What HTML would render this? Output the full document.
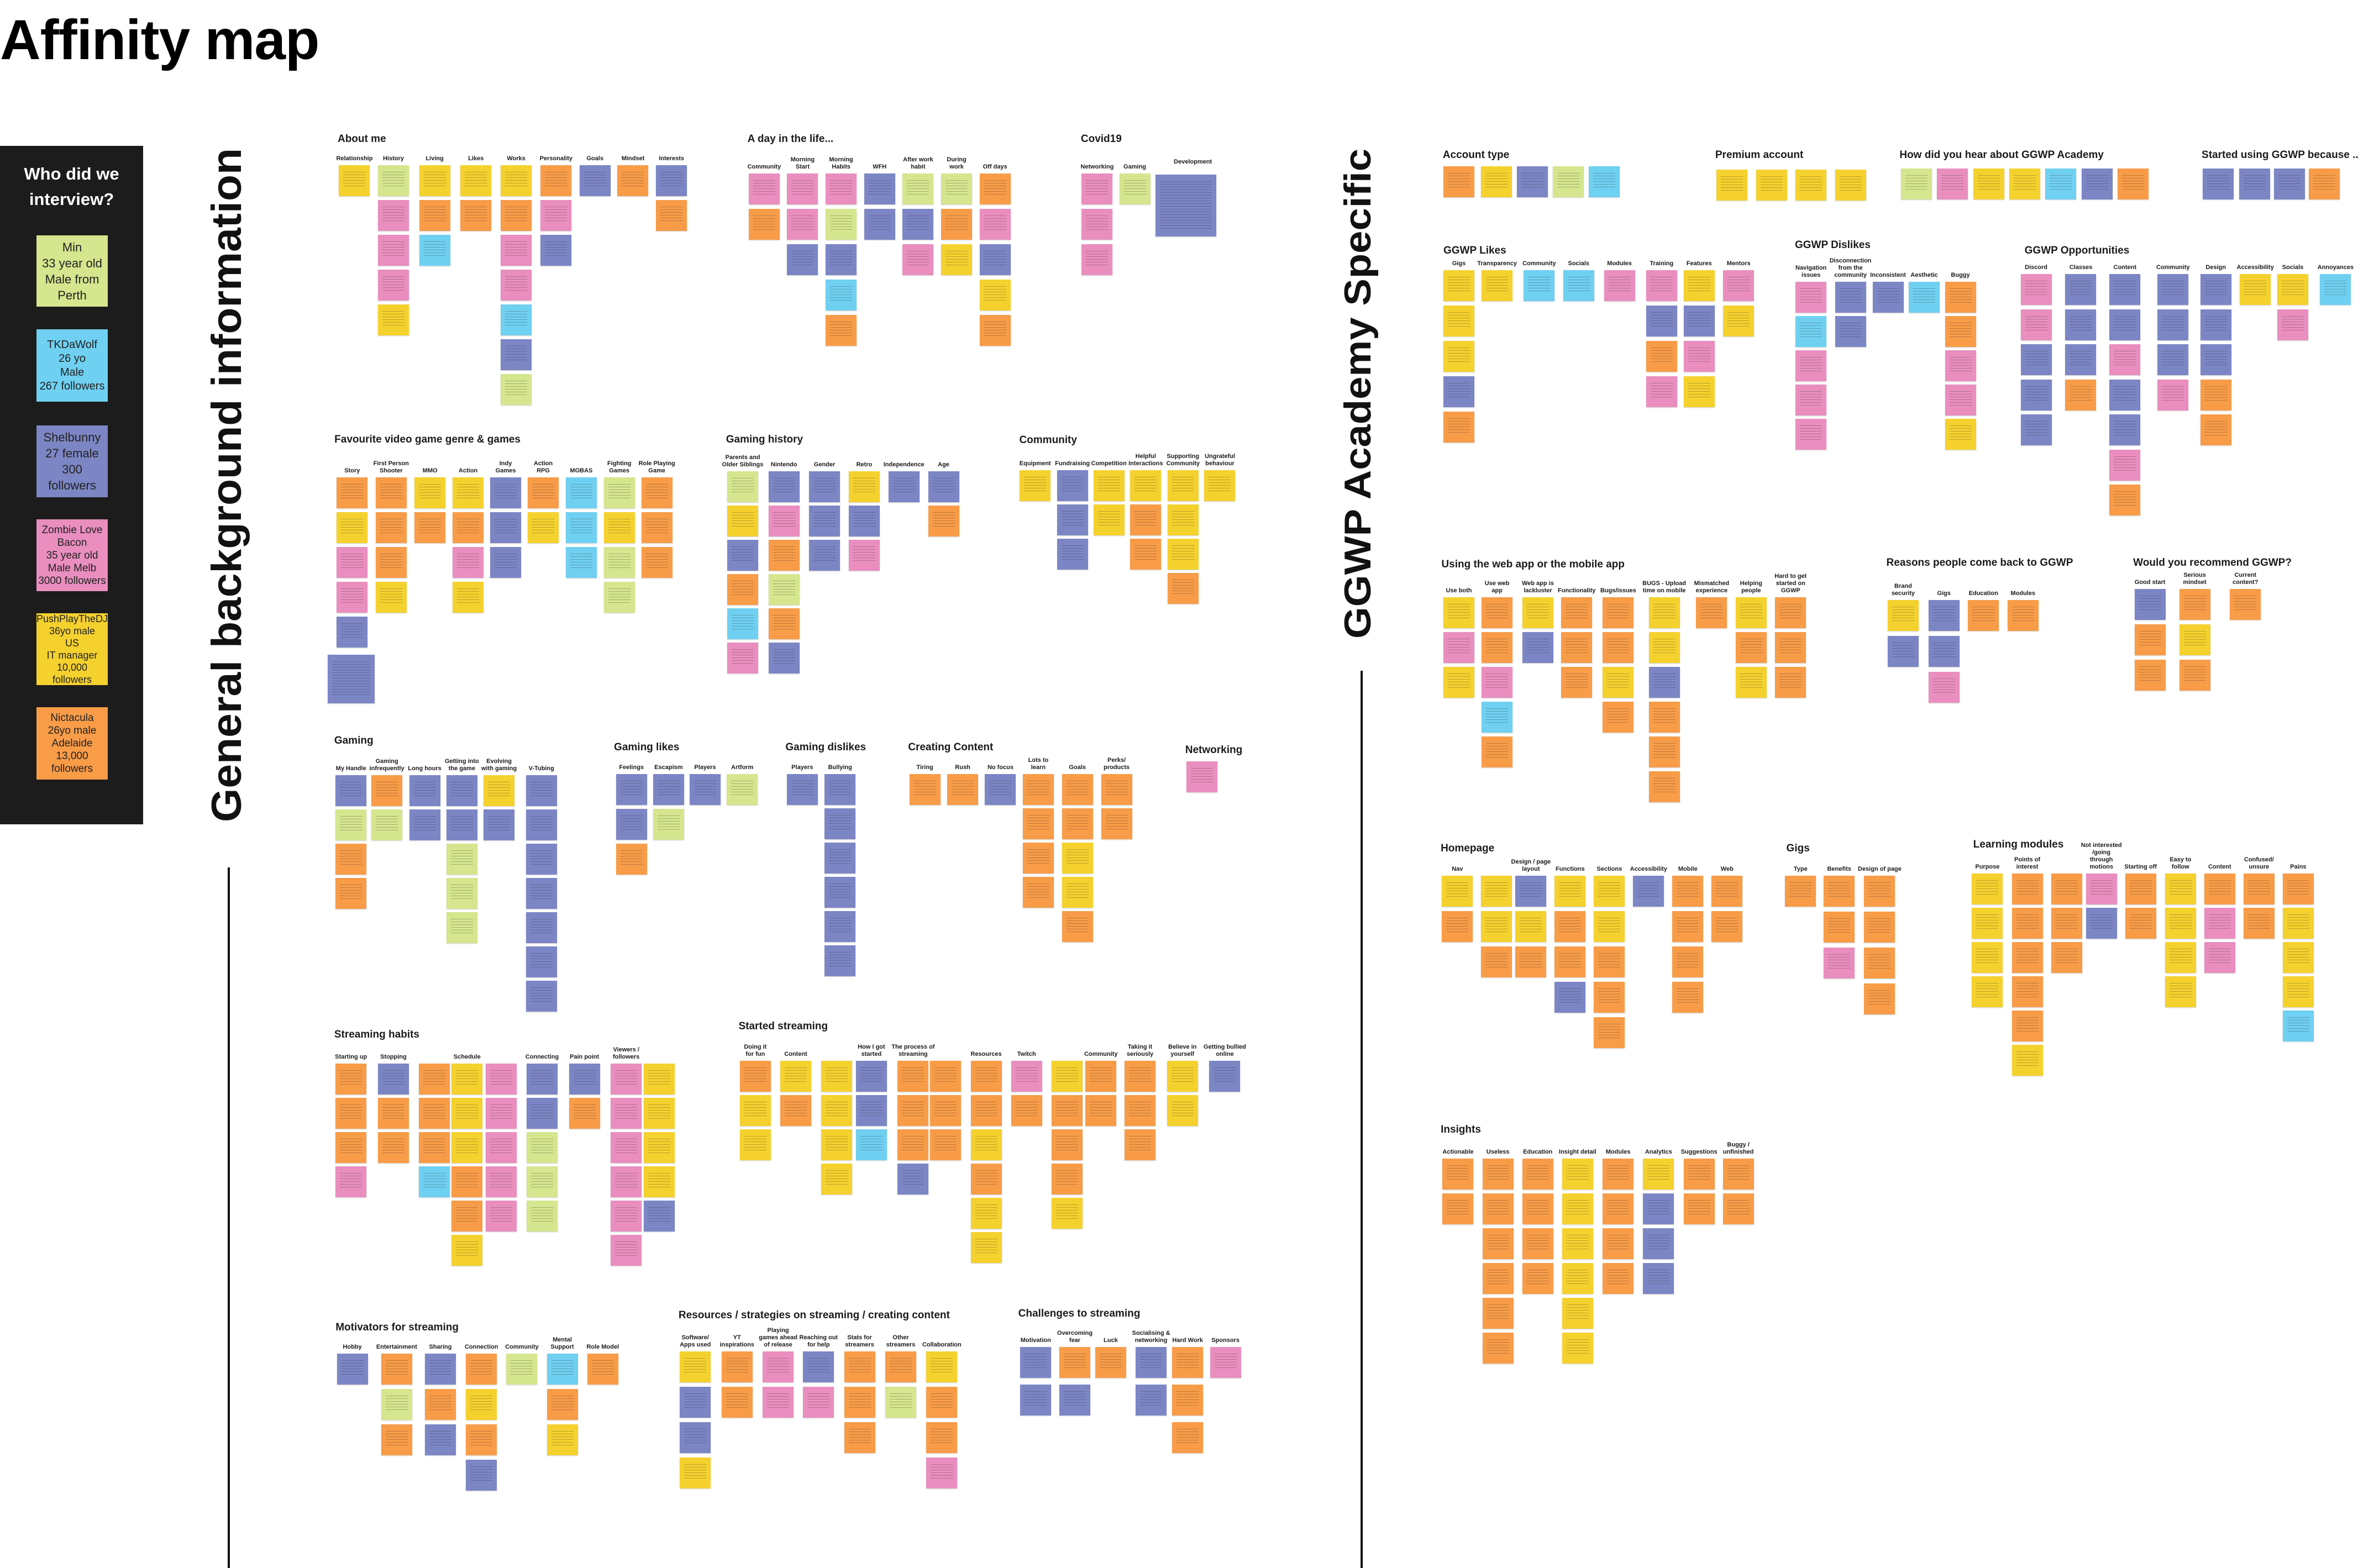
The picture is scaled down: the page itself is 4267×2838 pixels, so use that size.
<!DOCTYPE html>
<html><head><meta charset="utf-8">
<style>
html,body{margin:0;padding:0;background:#fff}
#pg{position:relative;width:4267px;height:2838px;overflow:hidden;background:#fff;font-family:"Liberation Sans",sans-serif;color:#1b1b1b}
.n{position:absolute;box-sizing:border-box;box-shadow:0 1px 2px rgba(0,0,0,.2)}
.n::after{content:"";position:absolute;left:8px;right:8px;top:12px;bottom:14px;background:repeating-linear-gradient(180deg,rgba(40,30,30,.28) 0 1px,transparent 1px 5px)}
.h{position:absolute;font-weight:bold;font-size:19px;white-space:nowrap}
.l{position:absolute;font-weight:bold;font-size:11px;width:80px;text-align:center;line-height:13px}
.card{position:absolute;left:66px;width:129px;display:flex;align-items:center;justify-content:center;text-align:center;font-size:22px;line-height:27px;color:#222}
</style></head><body>
<div id="pg">
<div style="position:absolute;left:0;top:14px;font-size:102px;font-weight:bold;letter-spacing:-1px;color:#000">Affinity map</div>
<div style="position:absolute;left:0;top:264px;width:259px;height:1228px;background:#1c1c1c"></div>
<div style="position:absolute;left:0;top:292px;width:259px;text-align:center;color:#fff;font-weight:bold;font-size:31px;line-height:46px">Who did we<br>interview?</div>
<div class="card" style="top:426px;height:129px;background:#d5e68e;line-height:29px">Min<br>33 year old<br>Male from<br>Perth</div>
<div class="card" style="top:596px;height:131px;background:#6fd0f1;line-height:25px;font-size:20px">TKDaWolf<br>26 yo<br>Male<br>267 followers</div>
<div class="card" style="top:770px;height:130px;background:#7c86c5;line-height:29px">Shelbunny<br>27 female<br>300<br>followers</div>
<div class="card" style="top:940px;height:130px;background:#e98ebf;line-height:23px;font-size:19px">Zombie Love<br>Bacon<br>35 year old<br>Male Melb<br>3000 followers</div>
<div class="card" style="top:1110px;height:130px;background:#f5d12e;line-height:22px;font-size:18px">PushPlayTheDJ<br>36yo male<br>US<br>IT manager<br>10,000 followers</div>
<div class="card" style="top:1280px;height:131px;background:#f89c48;line-height:23px;font-size:19px">Nictacula<br>26yo male<br>Adelaide<br>13,000<br>followers</div>
<svg style="position:absolute;left:0;top:0" width="4267" height="2838">
<text transform="translate(436,1488) rotate(-90)" font-family="Liberation Sans" font-weight="bold" font-size="76" textLength="1220" lengthAdjust="spacingAndGlyphs" fill="#111">General background information</text>
<text transform="translate(2480,1156) rotate(-90)" font-family="Liberation Sans" font-weight="bold" font-size="68" textLength="887" lengthAdjust="spacingAndGlyphs" fill="#111">GGWP Academy Specific</text>
<rect x="412" y="1570" width="4" height="1268" fill="#111"/>
<rect x="2462" y="1214" width="4" height="1624" fill="#111"/>
</svg>
</div>
<script>
const pg=document.getElementById('pg');
const C={Y:'#f5d12e',O:'#f89c48',P:'#e98ebf',B:'#7c86c5',C:'#6fd0f1',L:'#d5e68e'};
const R={1:[0,0,.829,.957],2:[2400,200,1.191,.765],3:[1250,200,.733,.829],4:[560,1300,1.18,.981],5:[2500,1400,1.127,.917]};
function M(r,x,y){const a=R[r];return [a[0]+x*a[2],a[1]+y*a[3]];}
function note(x,y,c,w,h){const d=document.createElement('div');d.className='n';d.style.cssText=`left:${x}px;top:${y}px;width:${w||56}px;height:${h||56}px;background:${C[c]}`;pg.appendChild(d);}
function H(r,x,y,t){const p=M(r,x,y);const d=document.createElement('div');d.className='h';d.textContent=t;d.style.left=p[0]+'px';d.style.top=(p[1]-12)+'px';pg.appendChild(d);}
function K(r,cols,step){step=step||63;cols.forEach(c=>{const p=M(r,c[0],c[1]);if(c[3]){const d=document.createElement('div');d.className='l';d.innerHTML=c[3];d.style.left=(p[0]+28-40)+'px';d.style.bottom=(2838-(p[1]-5))+'px';pg.appendChild(d);}
[...c[2]].forEach((k,i)=>note(p[0],p[1]+i*step,k));});}
// R1
H(1,737,264,'About me');
K(1,[[740,312,'Y','Relationship'],[825,312,'LPPPY','History'],[915,312,'YOC','Living'],[1005,312,'YO','Likes'],[1093,312,'YOPPCBL','Works'],[1180,312,'OPB','Personality'],[1265,312,'B','Goals'],[1348,312,'O','Mindset'],[1432,312,'BO','Interests']],63);
H(1,730,833,'Favourite video game genre & games');
K(1,[[735,903,'OYPPB','Story'],[820,903,'OOOY','First Person<br>Shooter'],[905,903,'YO','MMO'],[988,903,'YOPY','Action'],[1070,903,'BBB','Indy<br>Games'],[1152,903,'OY','Action<br>RPG'],[1235,903,'CCC','MOBAS'],[1318,903,'LYLL','Fighting<br>Games'],[1400,903,'OOO','Role Playing<br>Game']],63);
note(593,1185,'B',85,88);
// R3
H(3,140,64,'A day in the life...');
K(3,[[143,138,'PO','Community'],[238,138,'PPB','Morning<br>Start'],[333,138,'PLBCO','Morning<br>Habits'],[428,138,'BB','WFH'],[523,138,'LBP','After work<br>habit'],[618,138,'LOY','During<br>work'],[713,138,'OPBYO','Off days']],64);
H(3,963,64,'Covid19');
K(3,[[965,138,'PPP','Networking'],[1058,138,'L','Gaming']],64);
{const p=M(3,1148,140);note(p[0],p[1],'B',110,112);const q=M(3,1185,112);const d=document.createElement('div');d.className='l';d.textContent='Development';d.style.left=q[0]+'px';d.style.top=(q[1]-6)+'px';pg.appendChild(d);}
H(3,87,720,'Gaming history');
K(3,[[90,788,'LYBOCP','Parents and<br>Older Siblings'],[192,788,'BPOLOB','Nintendo'],[292,788,'BBB','Gender'],[390,788,'YBP','Retro'],[488,788,'B','Independence'],[586,788,'BO','Age']],62);
H(3,811,721,'Community');
K(3,[[812,785,'Y','Equipment'],[904,785,'BBB','Fundraising'],[994,785,'YY','Competition'],[1085,785,'YOO','Helpful<br>Interactions'],[1177,785,'YYYO','Supporting<br>Community'],[1268,785,'Y','Ungrateful<br>behaviour']],62);
// R4
H(4,38,43,'Gaming');
K(4,[[40,105,'BLOO','My Handle'],[95,105,'OL','Gaming<br>infrequently'],[153,105,'BB','Long hours'],[210,105,'BBLLL','Getting into<br>the game'],[267,105,'YB','Evolving<br>with gaming'],[332,105,'BBBBBBB','V-Tubing']],62);
H(4,467,55,'Gaming likes');
K(4,[[470,103,'BBO','Feelings'],[527,103,'BL','Escapism'],[583,103,'B','Players'],[640,103,'L','Artform']],63);
H(4,730,55,'Gaming dislikes');
K(4,[[732,103,'B','Players'],[790,103,'BBBBBB','Bullying']],62);
H(4,918,55,'Creating Content');
K(4,[[920,103,'O','Tiring'],[978,103,'O','Rush'],[1036,103,'B','No focus'],[1094,103,'OOOO','Lots to<br>learn'],[1154,103,'OOYYO','Goals'],[1214,103,'OO','Perks/<br>products']],62);
H(4,1343,60,'Networking');
K(4,[[1345,80,'P','']]);
H(4,38,585,'Streaming habits');
K(4,[[40,637,'OOOP','Starting up'],[105,637,'BOO','Stopping'],[168,637,'OOOC',''],[218,637,'YYYOOY','Schedule'],[270,637,'PPPPP',''],[333,637,'BBLLL','Connecting'],[398,637,'BO','Pain point'],[462,637,'PPPPPP','Viewers / followers'],[513,637,'YYYYB','']],62);
H(4,658,570,'Started streaming');
K(4,[[660,632,'OYY','Doing it<br>for fun'],[722,632,'YO','Content'],[785,632,'YYYY',''],[838,632,'BBC','How I got started'],[902,632,'OOOB','The process of streaming'],[952,632,'OOO',''],[1014,632,'OOYOYY','Resources'],[1076,632,'PO','Twitch'],[1138,632,'YOOOY',''],[1190,632,'OO','Community'],[1250,632,'OOO','Taking it<br>seriously'],[1315,632,'YY','Believe in<br>yourself'],[1380,632,'B','Getting bullied<br>online']],62);
H(4,40,1125,'Motivators for streaming');
K(4,[[42,1172,'B','Hobby'],[110,1172,'OLO','Entertainment'],[177,1172,'BOB','Sharing'],[240,1172,'OYOB','Connection'],[302,1172,'L','Community'],[364,1172,'COY','Mental<br>Support'],[426,1172,'O','Role Model']],64);
H(4,566,1103,'Resources / strategies on streaming / creating content');
K(4,[[568,1168,'YBBY','Software/<br>Apps used'],[632,1168,'OO','YT<br>inspirations'],[695,1168,'PP','Playing<br>games ahead<br>of release'],[757,1168,'BP','Reaching out<br>for help'],[820,1168,'OOO','Stats for<br>streamers'],[883,1168,'OL','Other<br>streamers'],[946,1168,'YOOP','Collaboration']],64);
H(4,1087,1100,'Challenges to streaming');
K(4,[[1090,1160,'BB','Motivation'],[1150,1160,'OB','Overcoming<br>fear'],[1205,1160,'O','Luck'],[1267,1160,'BB','Socialising &<br>networking'],[1323,1160,'OOO','Hard Work'],[1381,1160,'P','Sponsors']],68);
// R2
H(2,177,107,'Account type');
K(2,[[178,132,'O'],[235,132,'Y'],[290,132,'B'],[344,132,'L'],[399,132,'C']]);
H(2,591,107,'Premium account');
K(2,[[593,140,'Y'],[653,140,'Y'],[713,140,'Y'],[773,140,'Y']]);
H(2,871,107,'How did you hear about GGWP Academy');
K(2,[[873,137,'L'],[928,137,'P'],[983,137,'Y'],[1038,137,'Y'],[1092,137,'C'],[1148,137,'B'],[1202,137,'O']]);
H(2,1330,107,'Started using GGWP because ...');
K(2,[[1332,137,'B'],[1387,137,'B'],[1440,137,'B'],[1493,137,'O']]);
H(2,178,333,'GGWP Likes');
K(2,[[178,378,'YYYBO','Gigs'],[236,378,'Y','Transparency'],[300,378,'C','Community'],[360,378,'C','Socials'],[422,378,'P','Modules'],[486,378,'PBOP','Training'],[543,378,'YBPY','Features'],[603,378,'PY','Mentors']],64);
H(2,712,320,'GGWP Dislikes');
K(2,[[713,405,'PCPPP','Navigation<br>issues'],[773,405,'BB','Disconnection<br>from the<br>community'],[830,405,'B','Inconsistent'],[885,405,'C','Aesthetic'],[940,405,'OOPPY','Buggy']],62);
H(2,1061,333,'GGWP Opportunities');
K(2,[[1055,387,'PPBBB','Discord'],[1123,387,'BBBO','Classes'],[1190,387,'BBPBBPO','Content'],[1263,387,'BBBP','Community'],[1328,387,'BBBOO','Design'],[1388,387,'Y','Accessibility'],[1445,387,'YP','Socials'],[1510,387,'C','Annoyances']],63.5);
H(2,175,1076,'Using the web app or the mobile app');
K(2,[[178,1152,'YPY','Use both'],[236,1152,'OOPCO','Use web<br>app'],[298,1152,'YB','Web app is<br>lackluster'],[357,1152,'OOO','Functionality'],[420,1152,'OOYO','Bugs/issues'],[490,1152,'YYBOOO','BUGS - Upload<br>time on mobile'],[562,1152,'O','Mismatched<br>experience'],[622,1152,'YOY','Helping<br>people'],[682,1152,'OOO','Hard to get<br>started on<br>GGWP']],63);
H(2,851,1072,'Reasons people come back to GGWP');
K(2,[[853,1158,'YB','Brand<br>security'],[915,1158,'BBP','Gigs'],[975,1158,'O','Education'],[1035,1158,'O','Modules']],65);
H(2,1226,1072,'Would you recommend GGWP?');
K(2,[[1228,1132,'BOO','Good start'],[1296,1132,'OYO','Serious mindset'],[1373,1132,'O','Current content?']],64);
// R5
H(5,95,149,'Homepage');
K(5,[[97,202,'YO','Nav'],[160,202,'YYO',''],[215,202,'BYO','Design / page layout'],[278,202,'YOOB','Functions'],[341,202,'YYOOO','Sections'],[404,202,'B','Accessibility'],[467,202,'OOOO','Mobile'],[530,202,'OO','Web']],64);
H(5,650,149,'Gigs');
K(5,[[648,202,'O','Type'],[710,202,'OOP','Benefits'],[775,202,'OOOO','Design of page']],65);
H(5,950,142,'Learning modules');
K(5,[[948,197,'YYYY','Purpose'],[1012,197,'OOOOOY','Points of<br>interest'],[1075,197,'OOO',''],[1131,197,'PB','Not interested /going<br>through motions'],[1194,197,'OO','Starting off'],[1258,197,'YYYY','Easy to<br>follow'],[1321,197,'OPP','Content'],[1384,197,'OO','Confused/<br>unsure'],[1447,197,'OYYYC','Pains']],62);
H(5,95,705,'Insights');
K(5,[[98,760,'OO','Actionable'],[162,760,'OOOOOO','Useless'],[226,760,'OOOO','Education'],[290,760,'YYYYYY','Insight detail'],[355,760,'OOOO','Modules'],[420,760,'YBBB','Analytics'],[485,760,'OO','Suggestions'],[548,760,'OO','Buggy /<br>unfinished']],63);
</script>
</body></html>
